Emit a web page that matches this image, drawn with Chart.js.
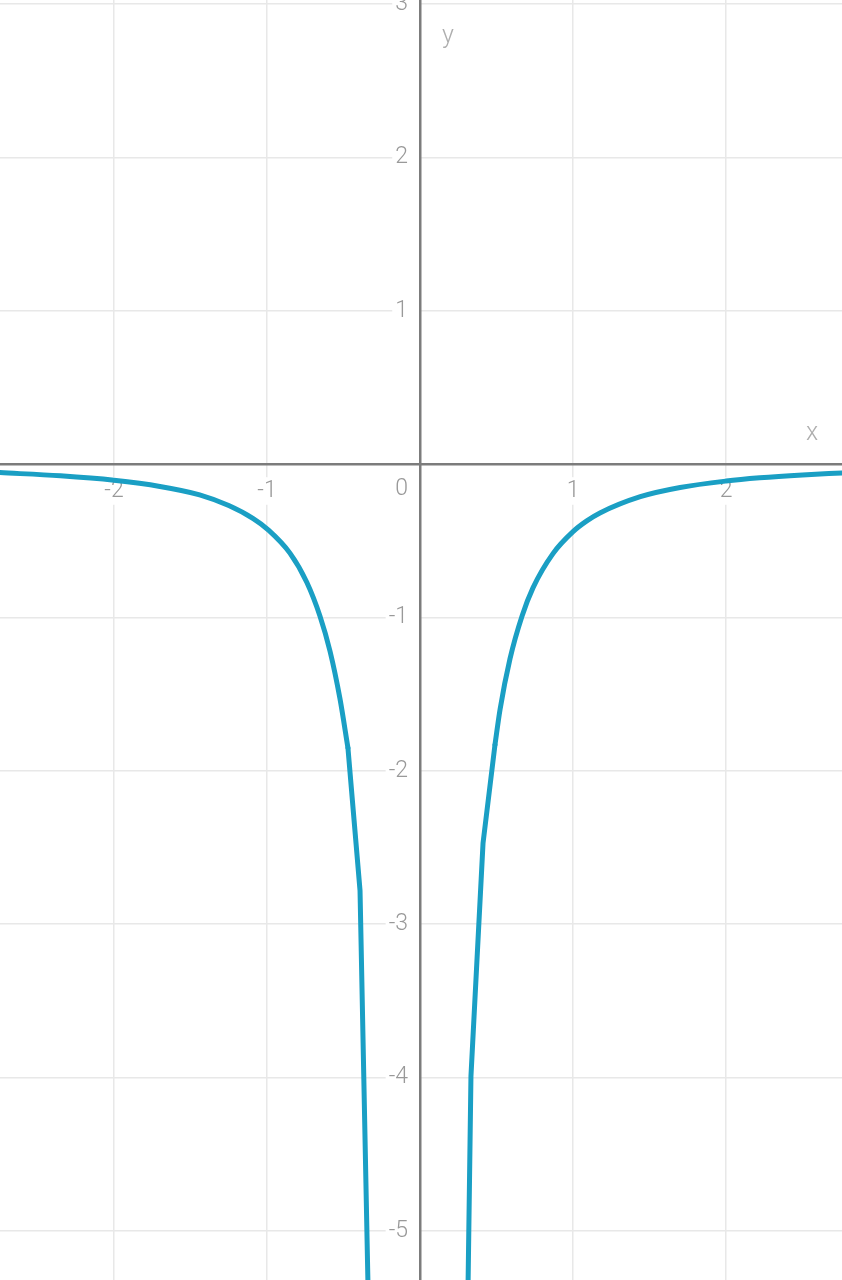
<!DOCTYPE html>
<html>
<head>
<meta charset="utf-8">
<script src="https://cdn.jsdelivr.net/npm/chart.js@4.4.1/dist/chart.umd.min.js"></script>
<style>
  html, body { margin: 0; padding: 0; background: #ffffff; }
  #wrap { width: 842px; height: 1280px; }
</style>
</head>
<body>
<div id="wrap"><canvas id="c" width="842" height="1280"></canvas></div>
<script>
// Axis ranges and ticks
const xRange = [-2.745, 2.758];
const yRange = [-5.32, 3.027];
const xTickValues = [-2, -1, 1, 2];
const yTickValues = [3, 2, 1, -1, -2, -3, -4, -5];
const axisTitles = ['x', 'y'];
const originLabel = '0';

// Left branch of the curve: smooth part, then the straight tail
const leftX = [-2.745, -2.35, -2.0, -1.7, -1.44, -1.25, -1.09, -0.99, -0.85, -0.74, -0.654, -0.588, -0.523, -0.471];
const leftY = [-0.055, -0.076, -0.105, -0.145, -0.2, -0.27, -0.355, -0.43, -0.58, -0.77, -0.99, -1.22, -1.53, -1.85];
const leftTailX = [-0.471, -0.392, -0.337];
const leftTailY = [-1.85, -2.78, -5.5];

// Right branch of the curve: straight tail, then the smooth part
const rightTailX = [0.312, 0.333, 0.412, 0.49];
const rightTailY = [-5.5, -3.99, -2.47, -1.83];
const rightX = [0.49, 0.523, 0.588, 0.667, 0.739, 0.869, 1.0, 1.09, 1.176, 1.44, 1.7, 2.0, 2.22, 2.5, 2.758];
const rightY = [-1.83, -1.6, -1.27, -0.99, -0.805, -0.583, -0.44, -0.37, -0.318, -0.212, -0.152, -0.11, -0.089, -0.07, -0.057];

const pts = (xs, ys) => xs.map((x, i) => ({ x: x, y: ys[i] }));

const FONT = { family: 'Roboto, "Noto Sans", sans-serif', size: 23, weight: 300 };
const LABEL_COLOR = '#999999';
const GRID_COLOR = '#e8e8e8';
const AXIS_COLOR = '#7c7c7c';
const CURVE_COLOR = '#1a9fc4';
const Y_LABEL_GAP = 12;

const line = (data, smooth) => ({
  data: data, showLine: true, borderColor: CURVE_COLOR, borderWidth: 5,
  pointRadius: 0, fill: false, tension: smooth ? 0.4 : 0,
  cubicInterpolationMode: smooth ? 'monotone' : 'default',
  borderCapStyle: 'round', borderJoinStyle: 'round'
});

// Move the y tick labels a little to the left of the axis line
const shiftYLabels = {
  id: 'shiftYLabels',
  beforeDraw(chart) {
    const items = chart.scales.y.getLabelItems(chart.chartArea);
    items.forEach(it => {
      if (it._shifted) return;
      it._shifted = true;
      it.options.translation[0] -= Y_LABEL_GAP;
      if (it.options.backdrop) it.options.backdrop.width += Y_LABEL_GAP - 3;
    });
  }
};

const extraText = {
  id: 'extraText',
  afterDraw(chart) {
    const { ctx, scales } = chart;
    const x0 = scales.x.getPixelForValue(0);
    const y0 = scales.y.getPixelForValue(0);
    ctx.save();
    ctx.fillStyle = LABEL_COLOR;
    ctx.font = '300 23px Roboto, "Noto Sans", sans-serif';
    ctx.textAlign = 'right';
    ctx.textBaseline = 'top';
    ctx.fillText(originLabel, x0 - 12, y0 + 14);
    ctx.fillStyle = '#aeaeae';
    ctx.font = '300 25px Roboto, "Noto Sans", sans-serif';
    ctx.textAlign = 'center';
    ctx.textBaseline = 'middle';
    ctx.fillText(axisTitles[0], scales.x.getPixelForValue(xRange[1]) - 30, y0 - 30);
    ctx.fillText(axisTitles[1], x0 + 28, scales.y.getPixelForValue(yRange[1]) + 37);
    ctx.restore();
  }
};

const noPad = (s) => { s.paddingTop = 0; s.paddingBottom = 0; s.paddingLeft = 0; s.paddingRight = 0; };

new Chart(document.getElementById('c'), {
  type: 'scatter',
  data: {
    datasets: [
      line(pts(leftX, leftY), true),
      line(pts(leftTailX, leftTailY), false),
      line(pts(rightTailX, rightTailY), false),
      line(pts(rightX, rightY), true)
    ]
  },
  options: {
    responsive: false,
    animation: false,
    devicePixelRatio: 1,
    layout: { padding: 0 },
    plugins: { legend: { display: false }, tooltip: { enabled: false } },
    scales: {
      x: {
        type: 'linear',
        min: xRange[0], max: xRange[1],
        position: { y: 0 },
        afterBuildTicks: (s) => { s.ticks = xTickValues.map(v => ({ value: v })); },
        afterFit: noPad,
        ticks: {
          includeBounds: false,
          padding: 13,
          color: LABEL_COLOR,
          font: FONT,
          maxRotation: 0,
          autoSkip: false,
          showLabelBackdrop: true,
          backdropColor: '#ffffff',
          backdropPadding: { x: 3, y: 0 }
        },
        grid: { color: GRID_COLOR, lineWidth: 1.5, drawTicks: false },
        border: { display: true, color: AXIS_COLOR, width: 2.5, z: 1 }
      },
      y: {
        type: 'linear',
        min: yRange[0], max: yRange[1],
        position: { x: 0 },
        afterBuildTicks: (s) => { s.ticks = yTickValues.map(v => ({ value: v })); },
        afterFit: noPad,
        ticks: {
          includeBounds: false,
          padding: 0,
          color: LABEL_COLOR,
          font: FONT,
          autoSkip: false,
          showLabelBackdrop: true,
          backdropColor: '#ffffff',
          backdropPadding: { x: 3, y: 0 }
        },
        grid: { color: GRID_COLOR, lineWidth: 1.5, drawTicks: false },
        border: { display: true, color: AXIS_COLOR, width: 2.5, z: 1 }
      }
    }
  },
  plugins: [shiftYLabels, extraText]
});
</script>
</body>
</html>
